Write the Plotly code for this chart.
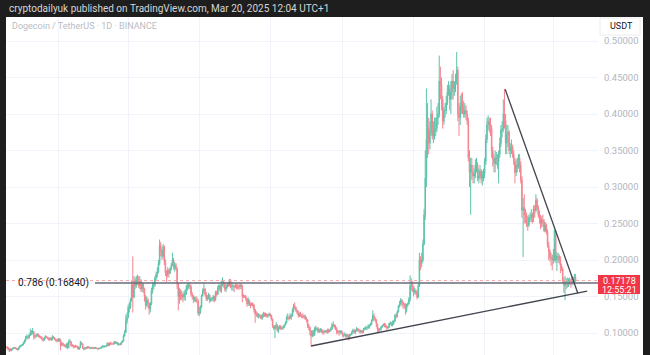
import pandas as pd
import plotly.graph_objects as go

# ---------------- data: DOGE/USDT daily candles from 2023-11-18 (prices in thousandths of USDT)
start_date = "2023-11-18"
first_open = 81
closes = [
    80, 77, 78, 76, 78, 79, 80, 79, 78, 77, 80, 82, 83,  # Nov 23
    84, 86, 89, 94, 95, 93, 97, 101, 100, 102, 95, 95, 97, 98, 96, 95, 94, 92, 90, 93, 95, 94, 93, 91, 93, 91, 95, 93, 91, 90, 89,  # Dec
    92, 90, 83, 86, 84, 83, 81, 85, 80, 88, 88, 83, 83, 81, 81, 82, 81, 78, 80, 86, 85, 79, 78, 80, 79, 81, 80, 79, 80, 79, 79,  # Jan 24
    80, 79, 79, 78, 79, 79, 81, 82, 81, 82, 82, 86, 83, 86, 85, 85, 85, 88, 86, 87, 84, 85, 84, 87, 89, 96, 101, 116, 121,  # Feb
    135, 136, 145, 166, 149, 172, 165, 172, 172, 165, 172, 160, 167, 160, 150, 138, 145, 141, 133, 140, 158, 165, 166, 175, 180, 184, 195, 220, 213, 205, 218,  # Mar
    198, 182, 179, 186, 182, 188, 193, 200, 190, 193, 188, 167, 150, 158, 150, 152, 149, 154, 157, 164, 163, 166, 163, 153, 150, 146, 147, 145, 144, 127,  # Apr
    128, 136, 151, 158, 160, 153, 147, 148, 152, 144, 146, 147, 150, 145, 156, 153, 162, 165, 158, 168, 170, 167, 160, 163, 167, 166, 172, 163, 164, 164, 163,  # May
    165, 163, 163, 163, 166, 164, 150, 150, 150, 147, 140, 145, 140, 138, 140, 138, 132, 126, 126, 123, 124, 124, 120, 124, 127, 124, 126, 123, 124, 126,  # Jun
    124, 119, 110, 106, 108, 111, 103, 107, 109, 106, 106, 108, 111, 114, 121, 121, 120, 124, 123, 131, 137, 135, 131, 128, 124, 127, 124, 122, 122, 123, 119,  # Jul
    118, 111, 108, 103, 96, 101, 97, 106, 106, 106, 102, 104, 104, 102, 101, 101, 103, 102, 104, 102, 104, 106, 111, 111, 109, 106, 101, 102, 101, 102, 101,  # Aug
    97, 97, 98, 95, 97, 93, 97, 98, 101, 104, 101, 103, 106, 104, 104, 101, 103, 102, 105, 106, 107, 107, 109, 110, 112, 117, 124, 120, 118, 112,  # Sep
    105, 104, 105, 108, 110, 112, 111, 109, 107, 108, 113, 114, 111, 114, 116, 124, 123, 129, 137, 140, 145, 142, 139, 138, 132, 138, 140, 146, 165, 166, 164,  # Oct
    156, 158, 155, 149, 165, 200, 195, 200, 222, 262, 312, 365, 380, 360, 375, 400, 370, 375, 378, 380, 395, 400, 445, 440, 420, 390, 405, 405, 415, 430,  # Nov
    435, 420, 430, 445, 435, 440, 445, 460, 400, 395, 410, 415, 410, 400, 405, 400, 390, 340, 320, 330, 320, 315, 318, 330, 330, 312, 315, 322, 312, 315, 318,  # Dec
    335, 365, 385, 390, 385, 380, 350, 338, 332, 340, 340, 335, 345, 360, 378, 380, 400, 390, 360, 372, 375, 350, 352, 355, 345, 335, 320, 330, 328, 340, 330,  # Jan 25
    310, 268, 272, 262, 262, 250, 248, 258, 258, 262, 258, 270, 268, 282, 272, 262, 258, 250, 255, 252, 240, 248, 238, 220, 212, 204, 202, 200,  # Feb
    208, 240, 200, 205, 205, 200, 192, 188, 172, 165, 170, 170, 165, 170, 172, 168, 175, 172, 177, 171.78,  # Mar
]
highs = [
    82, 81, 79, 79, 79, 80, 81, 81, 80, 79, 81, 83, 84,
    85, 88, 91, 96, 98, 97, 99, 106, 104, 107, 103, 98, 99, 100, 99, 97, 96, 95, 93, 95, 97, 96, 95, 94, 94, 94, 97, 96, 94, 92, 92,
    93, 93, 92, 88, 87, 85, 84, 86, 87, 91, 92, 89, 85, 84, 83, 84, 83, 82, 81, 89, 88, 86, 80, 81, 81, 82, 82, 81, 81, 81, 81,
    81, 81, 80, 80, 80, 80, 82, 83, 83, 83, 83, 87, 87, 87, 88, 87, 86, 89, 89, 88, 88, 86, 86, 88, 90, 98, 104, 125, 128,
    139, 142, 148, 172, 205, 178, 176, 178, 180, 178, 178, 174, 170, 168, 162, 152, 150, 148, 142, 142, 162, 170, 170, 178, 184, 190, 200, 228, 225, 215, 222,
    220, 201, 186, 190, 188, 190, 196, 210, 203, 197, 196, 190, 168, 162, 160, 158, 155, 158, 160, 166, 168, 170, 168, 166, 156, 152, 150, 150, 150, 147,
    136, 138, 153, 161, 168, 162, 156, 152, 155, 153, 149, 149, 152, 151, 158, 158, 165, 168, 166, 172, 176, 172, 170, 166, 170, 170, 174, 174, 168, 168, 166,
    168, 167, 168, 166, 168, 168, 166, 153, 152, 152, 148, 149, 146, 142, 142, 142, 140, 133, 130, 128, 127, 126, 125, 126, 129, 128, 128, 127, 126, 128,
    127, 125, 120, 111, 111, 115, 112, 109, 111, 111, 109, 110, 112, 116, 124, 127, 123, 127, 126, 134, 140, 142, 136, 132, 131, 128, 129, 126, 127, 125, 125,
    122, 119, 112, 108, 104, 104, 104, 108, 110, 108, 108, 106, 107, 106, 105, 104, 104, 104, 106, 106, 105, 108, 114, 116, 112, 111, 108, 104, 104, 104, 104,
    102, 99, 101, 99, 99, 98, 99, 99, 103, 106, 105, 105, 108, 107, 106, 105, 104, 104, 107, 108, 110, 109, 112, 112, 114, 119, 131, 127, 122, 119,
    113, 107, 107, 109, 111, 113, 114, 113, 110, 109, 114, 116, 115, 117, 118, 126, 127, 131, 138, 144, 148, 146, 143, 141, 141, 140, 142, 149, 179, 175, 171,
    160, 162, 160, 158, 168, 210, 205, 210, 228, 270, 350, 435, 415, 395, 390, 420, 405, 390, 395, 395, 410, 415, 480, 465, 450, 425, 410, 415, 425, 440,
    445, 440, 445, 455, 460, 445, 455, 485, 465, 415, 425, 428, 430, 418, 415, 412, 405, 395, 350, 340, 340, 330, 325, 338, 340, 334, 325, 330, 325, 322, 325,
    340, 372, 395, 398, 395, 395, 385, 355, 345, 350, 348, 345, 350, 368, 385, 390, 420, 434, 400, 385, 385, 378, 360, 365, 358, 350, 340, 338, 340, 345, 345,
    335, 315, 285, 290, 270, 265, 260, 262, 265, 270, 265, 275, 275, 290, 285, 275, 268, 262, 260, 262, 256, 252, 250, 242, 225, 215, 210, 207,
    215, 242, 240, 210, 210, 208, 205, 195, 190, 176, 178, 175, 176, 175, 176, 174, 178, 177, 181, 181,
]
lows = [
    78, 76, 74, 75, 75, 77, 78, 78, 77, 76, 77, 79, 81,
    82, 83, 86, 88, 92, 91, 93, 96, 97, 98, 91, 92, 94, 95, 94, 93, 92, 90, 88, 89, 92, 93, 91, 89, 90, 89, 90, 92, 90, 88, 87,
    88, 88, 76, 82, 82, 81, 80, 79, 78, 79, 86, 81, 81, 79, 80, 80, 80, 77, 77, 79, 84, 78, 76, 77, 78, 79, 79, 78, 78, 78, 78,
    78, 78, 78, 77, 78, 78, 79, 80, 80, 80, 81, 82, 82, 82, 84, 84, 84, 84, 85, 85, 83, 83, 83, 84, 86, 88, 95, 100, 112,
    122, 128, 133, 143, 128, 148, 160, 162, 166, 162, 160, 156, 156, 155, 143, 132, 136, 134, 125, 128, 138, 154, 160, 163, 172, 176, 182, 193, 205, 200, 202,
    193, 178, 170, 176, 176, 181, 186, 192, 187, 184, 186, 160, 131, 140, 145, 145, 142, 145, 144, 152, 158, 160, 160, 150, 146, 141, 143, 142, 141, 124,
    123, 126, 134, 150, 154, 150, 144, 144, 146, 141, 143, 144, 143, 142, 144, 150, 152, 159, 156, 155, 164, 162, 157, 156, 161, 163, 164, 161, 158, 158, 156,
    162, 160, 160, 159, 160, 160, 142, 148, 148, 144, 136, 137, 137, 134, 137, 135, 128, 114, 122, 121, 120, 121, 119, 118, 121, 122, 122, 121, 121, 123,
    121, 117, 107, 104, 93, 105, 102, 100, 105, 104, 104, 105, 107, 110, 113, 118, 117, 119, 118, 122, 128, 133, 129, 126, 121, 122, 122, 120, 120, 120, 118,
    115, 107, 104, 97, 82, 94, 95, 96, 102, 103, 100, 100, 101, 100, 98, 98, 100, 100, 99, 100, 101, 102, 104, 108, 106, 104, 98, 99, 96, 98, 99,
    95, 94, 95, 93, 94, 90, 91, 96, 97, 100, 99, 98, 102, 102, 101, 99, 100, 99, 100, 104, 104, 104, 106, 106, 109, 111, 116, 117, 115, 108,
    101, 100, 102, 103, 107, 109, 108, 107, 104, 105, 107, 111, 109, 109, 111, 115, 120, 121, 128, 135, 138, 136, 133, 134, 125, 128, 136, 139, 143, 158, 156,
    150, 153, 152, 146, 148, 163, 186, 190, 197, 220, 255, 300, 340, 345, 352, 370, 365, 360, 365, 370, 375, 385, 395, 420, 405, 380, 385, 395, 400, 412,
    425, 405, 400, 420, 420, 425, 430, 440, 390, 370, 385, 400, 400, 395, 395, 392, 385, 335, 300, 262, 310, 305, 305, 312, 320, 308, 305, 310, 305, 302, 308,
    312, 330, 360, 378, 375, 370, 340, 328, 320, 320, 330, 325, 305, 340, 355, 368, 375, 380, 345, 345, 355, 345, 340, 345, 340, 330, 305, 315, 320, 325, 320,
    305, 258, 204, 250, 250, 245, 240, 245, 252, 252, 250, 252, 258, 265, 268, 258, 250, 242, 245, 245, 238, 238, 235, 217, 200, 198, 192, 186,
    195, 198, 196, 185, 196, 195, 182, 185, 168, 155, 145, 160, 162, 163, 166, 162, 165, 166, 167, 170,
]
price_ticks = [0.10, 0.15, 0.20, 0.25, 0.30, 0.35, 0.40, 0.45, 0.50]
fib_level = 0.1684
fib_label = "0.786 (0.16840)"
last_price = 0.17178
countdown = "12:55:21"
trend_upper = [("2025-01-18 14:00", 0.434), ("2025-03-22", 0.1545)]
trend_lower = [("2024-08-05", 0.0822), ("2025-03-30", 0.1575)]

# ---------------- build candles
n = min(len(closes), len(highs), len(lows))
dates = pd.date_range(start_date, periods=n, freq="D")
c = [v / 1000 for v in closes[:n]]
o = [first_open / 1000] + c[:-1]
h = [max(a, b, v / 1000) for a, b, v in zip(o, c, highs[:n])]
l = [min(a, b, v / 1000) for a, b, v in zip(o, c, lows[:n])]

W, H = 650, 355
ML, MR, MT, MB = 6, 52, 17, 0
PW, PH = W - ML - MR, H - MT - MB
PX_PER_DAY = 1.165
Y_HI = 0.5 + (41 - MT) / 730
Y_LO = Y_HI - PH / 730
x0 = pd.Timestamp(start_date) - pd.Timedelta(days=(7 - ML) / PX_PER_DAY)
x1 = x0 + pd.Timedelta(days=PW / PX_PER_DAY)


def px(xp):
    return (xp - ML) / PW


def py(yp):
    return (H - yp) / PH


UP, DOWN = "#5cc3aa", "#f5848f"

fig = go.Figure(go.Candlestick(
    x=dates, open=o, high=h, low=l, close=c,
    increasing=dict(line=dict(color=UP, width=1), fillcolor=UP),
    decreasing=dict(line=dict(color=DOWN, width=1), fillcolor=DOWN),
    whiskerwidth=0, hoverinfo="skip",
))

FONT = "Roboto, Arial, sans-serif"
grid = "#f0f3fa"
shapes = []
# fib line
shapes.append(dict(type="line", xref="paper", yref="y", x0=px(95), x1=1, y0=fib_level, y1=fib_level,
                   line=dict(color="#6a6d78", width=1.5)))
# last price dotted line
shapes.append(dict(type="line", xref="paper", yref="y", x0=0, x1=1, y0=last_price, y1=last_price,
                   line=dict(color="#f7a3aa", width=1, dash="dot")))
# trendlines
for (xa, ya), (xb, yb) in (trend_upper, trend_lower):
    shapes.append(dict(type="line", xref="x", yref="y", x0=xa, y0=ya, x1=xb, y1=yb,
                       line=dict(color="#42454f", width=1.3)))
# frame
dark = "#1e1e1e"
shapes += [
    dict(type="rect", xref="paper", yref="paper", x0=px(0), x1=px(W), y0=py(MT), y1=py(0),
         fillcolor=dark, line=dict(width=0), layer="above"),
    dict(type="rect", xref="paper", yref="paper", x0=px(0), x1=px(ML), y0=py(H), y1=py(0),
         fillcolor=dark, line=dict(width=0), layer="above"),
    dict(type="rect", xref="paper", yref="paper", x0=px(643), x1=px(W), y0=py(H), y1=py(0),
         fillcolor=dark, line=dict(width=0), layer="above"),
    dict(type="rect", xref="paper", yref="paper", x0=px(600), x1=px(640), y0=py(35), y1=py(18),
         fillcolor="white", line=dict(color="#ececec", width=1), layer="above"),
    dict(type="rect", xref="paper", yref="paper", x0=px(598), x1=px(640), y0=py(294), y1=py(275),
         fillcolor="#f23645", line=dict(width=0), layer="above"),
]

annotations = [
    dict(xref="paper", yref="paper", x=px(7), y=py(8.5), xanchor="left", yanchor="middle",
         text="cryptodailyuk published on TradingView.com, Mar 20, 2025 12:04 UTC+1",
         showarrow=False, font=dict(family=FONT, size=10, color="#d6d6d6")),
    dict(xref="paper", yref="paper", x=px(10), y=py(26), xanchor="left", yanchor="middle",
         text="Dogecoin / TetherUS · 1D · BINANCE",
         showarrow=False, font=dict(family=FONT, size=9, color="#b9bcc4")),
    dict(xref="paper", yref="paper", x=px(621), y=py(26.5), xanchor="center", yanchor="middle",
         text="USDT", showarrow=False, font=dict(family=FONT, size=9, color="#131722")),
    dict(xref="paper", yref="y", x=px(16), y=fib_level, xanchor="left", yanchor="middle",
         text=fib_label, showarrow=False, font=dict(family=FONT, size=10, color="#131722")),
    dict(xref="paper", yref="paper", x=px(619), y=py(280.5), xanchor="center", yanchor="middle",
         text=f"{last_price:.5f}", showarrow=False, font=dict(family=FONT, size=9, color="white")),
    dict(xref="paper", yref="paper", x=px(619), y=py(289.5), xanchor="center", yanchor="middle",
         text=countdown, showarrow=False, font=dict(family=FONT, size=9, color="white")),
]

fig.update_layout(
    width=W, height=H, margin=dict(l=ML, r=MR, t=MT, b=MB, pad=0),
    paper_bgcolor="white", plot_bgcolor="white", showlegend=False,
    shapes=shapes, annotations=annotations, hovermode=False,
    xaxis=dict(type="date", range=[x0, x1], rangeslider=dict(visible=False),
               showticklabels=False, ticks="", showgrid=True, gridcolor=grid, gridwidth=1,
               tickvals=["2024-01-01", "2024-03-01", "2024-05-01", "2024-07-01", "2024-09-01",
                         "2024-11-01", "2025-01-01", "2025-03-01"],
               zeroline=False, showline=False, fixedrange=True),
    yaxis=dict(side="right", range=[Y_LO, Y_HI], tickvals=price_ticks,
               ticktext=[f"{v:.5f}" for v in price_ticks], ticks="", ticklabelstandoff=5,
               tickfont=dict(family=FONT, size=9.5, color="#b2b5be"),
               showgrid=True, gridcolor=grid, gridwidth=1, zeroline=False, showline=False,
               fixedrange=True),
)

fig.write_html("out.html")
